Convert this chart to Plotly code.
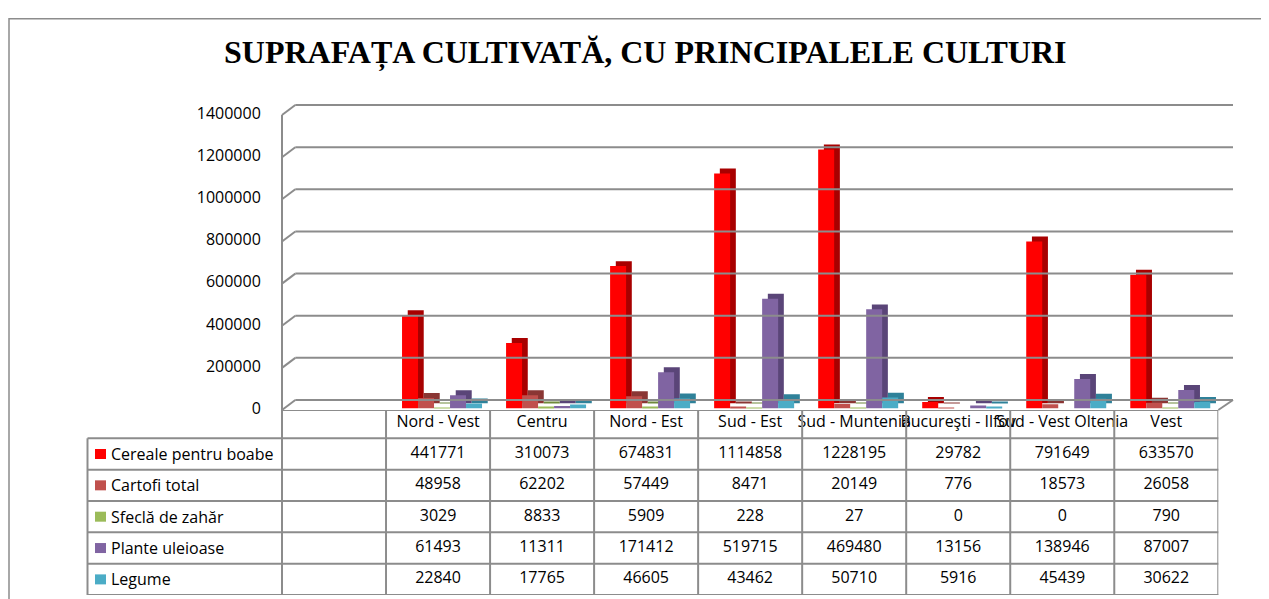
import plotly.graph_objects as go

# ---------------- data ----------------
title_text = "SUPRAFAȚA CULTIVATĂ, CU PRINCIPALELE CULTURI"
regions = ["Nord - Vest", "Centru", "Nord - Est", "Sud - Est", "Sud - Muntenia",
           "Bucureşti - Ilfov", "Sud - Vest Oltenia", "Vest"]
series_names = ["Cereale pentru boabe", "Cartofi total", "Sfeclă de zahăr",
                "Plante uleioase", "Legume"]
cereale = [441771, 310073, 674831, 1114858, 1228195, 29782, 791649, 633570]
cartofi = [48958, 62202, 57449, 8471, 20149, 776, 18573, 26058]
sfecla = [3029, 8833, 5909, 228, 27, 0, 0, 790]
plante = [61493, 11311, 171412, 519715, 469480, 13156, 138946, 87007]
legume = [22840, 17765, 46605, 43462, 50710, 5916, 45439, 30622]
y_ticks = [0, 200000, 400000, 600000, 800000, 1000000, 1200000, 1400000]

series_values = [cereale, cartofi, sfecla, plante, legume]

# ---------------- styles / geometry ----------------
front_colors = ["#FF0000", "#C0504D", "#9BBB59", "#8064A2", "#4BACC6"]
side_colors = ["#A80000", "#8A3634", "#6F8A3C", "#5A4578", "#2F8199"]
OFFX, OFFY = 8, 0            # where the page places the figure
W, H = 1269 - OFFX, 599 - OFFY
GRID = "#8c8c8c"
FONT = "Open Sans"

def px(x):                   # screen x -> paper
    return (x - OFFX) / W

def py(y):                   # screen y -> paper
    return 1 - (y - OFFY) / H

categories = [" "] + regions          # blank first column as in the original
x_left, x_right = 282.0, 1218.3
ncat = len(categories)
cat_px = (x_right - x_left) / ncat
y_zero_px, y_top_px = 405.0, 106.6
ymax = 1400000
upp = ymax / (y_zero_px - y_top_px)   # data units per pixel
ext_bot, ext_top = 4, 14              # room so wall lines are not clipped

bar_w = 16 / cat_px
off0 = -0.5 + 16 / cat_px
dx = 5.7 / cat_px
dy = 5 * upp

fig = go.Figure()

# depth (side) faces first
for i, (name, vals) in enumerate(zip(series_names, series_values)):
    fig.add_trace(go.Bar(
        x=regions, y=vals, base=dy, width=bar_w, offset=off0 + i * bar_w + dx,
        marker=dict(color=side_colors[i], line=dict(width=0)),
        showlegend=False, hoverinfo="skip", xaxis="x", yaxis="y"))
# front faces
for i, (name, vals) in enumerate(zip(series_names, series_values)):
    fig.add_trace(go.Bar(
        x=regions, y=vals, name=name, width=bar_w, offset=off0 + i * bar_w,
        marker=dict(color=front_colors[i], line=dict(width=0)),
        showlegend=False, xaxis="x", yaxis="y"))

# ---------------- data table ----------------
row_keys = ["header"] + series_names
tx, ty, tt = [], [], []
for r in regions:
    tx.append(r); ty.append("header"); tt.append(r)
for name, vals in zip(series_names, series_values):
    for r, v in zip(regions, vals):
        tx.append(r); ty.append(name); tt.append(str(v))
fig.add_trace(go.Scatter(
    x=tx, y=ty, text=tt, mode="text", textposition="middle center",
    textfont=dict(family=FONT, size=16, color="#000000"),
    showlegend=False, hoverinfo="skip", xaxis="x2", yaxis="y2", cliponaxis=False))

shapes = []
line = dict(color=GRID, width=2)

# outer chart border
shapes.append(dict(type="rect", xref="paper", yref="paper",
                   x0=px(9), x1=px(1300), y0=py(11), y1=py(640),
                   line=dict(color=GRID, width=1.5)))

# back wall gridlines + left-wall diagonals
for t in y_ticks:
    shapes.append(dict(type="line", xref="paper", yref="y", ysizemode="pixel",
                       yanchor=t, x0=px(295.3), x1=px(1233), y0=8.3, y1=8.3, line=line))
    shapes.append(dict(type="line", xref="paper", yref="y", ysizemode="pixel",
                       yanchor=t, x0=px(x_left), x1=px(295.3), y0=-1.7, y1=8.3, line=line))
# floor right edge diagonal
shapes.append(dict(type="line", xref="paper", yref="y", ysizemode="pixel",
                   yanchor=0, x0=px(x_right), x1=px(1233), y0=-1.7, y1=8.3, line=line))

# table geometry
tbl_top, tbl_bot = 406.7, 594.0
head_h = 28.7
row_h = (tbl_bot - tbl_top - head_h) / 5
top_pos = 0.5 - head_h / row_h

# front left axis line (continues as table border)
shapes.append(dict(type="line", xref="paper", yref="paper",
                   x0=px(x_left), x1=px(x_left), y0=py(tbl_bot), y1=py(108.3), line=line))

for k in range(ncat + 1):
    shapes.append(dict(type="line", xref="x2", yref="y2",
                       x0=k - 0.5, x1=k - 0.5, y0=top_pos, y1=len(row_keys) - 0.5, line=line))
shapes.append(dict(type="line", xref="x2", yref="y2",
                   x0=-0.5, x1=ncat - 0.5, y0=top_pos, y1=top_pos, line=line))
for k in range(1, len(row_keys) + 1):
    shapes.append(dict(type="line", xref="paper", yref="y2",
                       x0=px(87.5), x1=px(x_right), y0=k - 0.5, y1=k - 0.5, line=line))
shapes.append(dict(type="line", xref="paper", yref="y2",
                   x0=px(87.5), x1=px(87.5), y0=0.5, y1=len(row_keys) - 0.5, line=line))

# legend keys in the table
annotations = []
for name, col in zip(series_names, front_colors):
    shapes.append(dict(type="rect", xref="paper", yref="y2", ysizemode="pixel",
                       yanchor=name, x0=px(95), x1=px(106), y0=-5, y1=5,
                       fillcolor=col, line=dict(width=0)))
    annotations.append(dict(text=name, xref="paper", yref="y2", x=px(109), y=name,
                            xanchor="left", yanchor="middle", showarrow=False,
                            font=dict(family=FONT, size=16, color="#000000")))

annotations.append(dict(text="<b>" + title_text + "</b>", xref="paper", yref="paper",
                        x=px(645), y=py(45), xanchor="center", yanchor="middle",
                        showarrow=False,
                        font=dict(family="Liberation Serif", size=32, color="#000000")))

fig.update_layout(
    width=W, height=H, margin=dict(l=0, r=0, t=0, b=0), autosize=False,
    paper_bgcolor="white", plot_bgcolor="rgba(0,0,0,0)",
    barmode="overlay",
    xaxis=dict(domain=[px(x_left), px(x_right)], type="category",
               categoryorder="array", categoryarray=categories,
               range=[-0.5, ncat - 0.5], showticklabels=False, showgrid=False,
               zeroline=False, showline=False, anchor="y"),
    yaxis=dict(domain=[py(y_zero_px + ext_bot), py(y_top_px - ext_top)],
               range=[-ext_bot * upp, ymax + ext_top * upp],
               tickvals=y_ticks, ticktext=[str(t) for t in y_ticks],
               ticks="outside", ticklen=17, tickcolor="rgba(0,0,0,0)",
               tickfont=dict(family=FONT, size=16, color="#000000"),
               showgrid=False, zeroline=False, showline=False, anchor="x"),
    xaxis2=dict(domain=[px(x_left), px(x_right)], type="category",
                categoryorder="array", categoryarray=categories,
                range=[-0.5, ncat - 0.5], showticklabels=False, showgrid=False,
                zeroline=False, showline=False, anchor="y2"),
    yaxis2=dict(domain=[py(tbl_bot), py(tbl_top)], type="category",
                categoryorder="array", categoryarray=row_keys,
                range=[len(row_keys) - 0.5, top_pos], showticklabels=False,
                showgrid=False, zeroline=False, showline=False, anchor="x2"),
    shapes=shapes, annotations=annotations,
)

fig.write_html("out.html")
